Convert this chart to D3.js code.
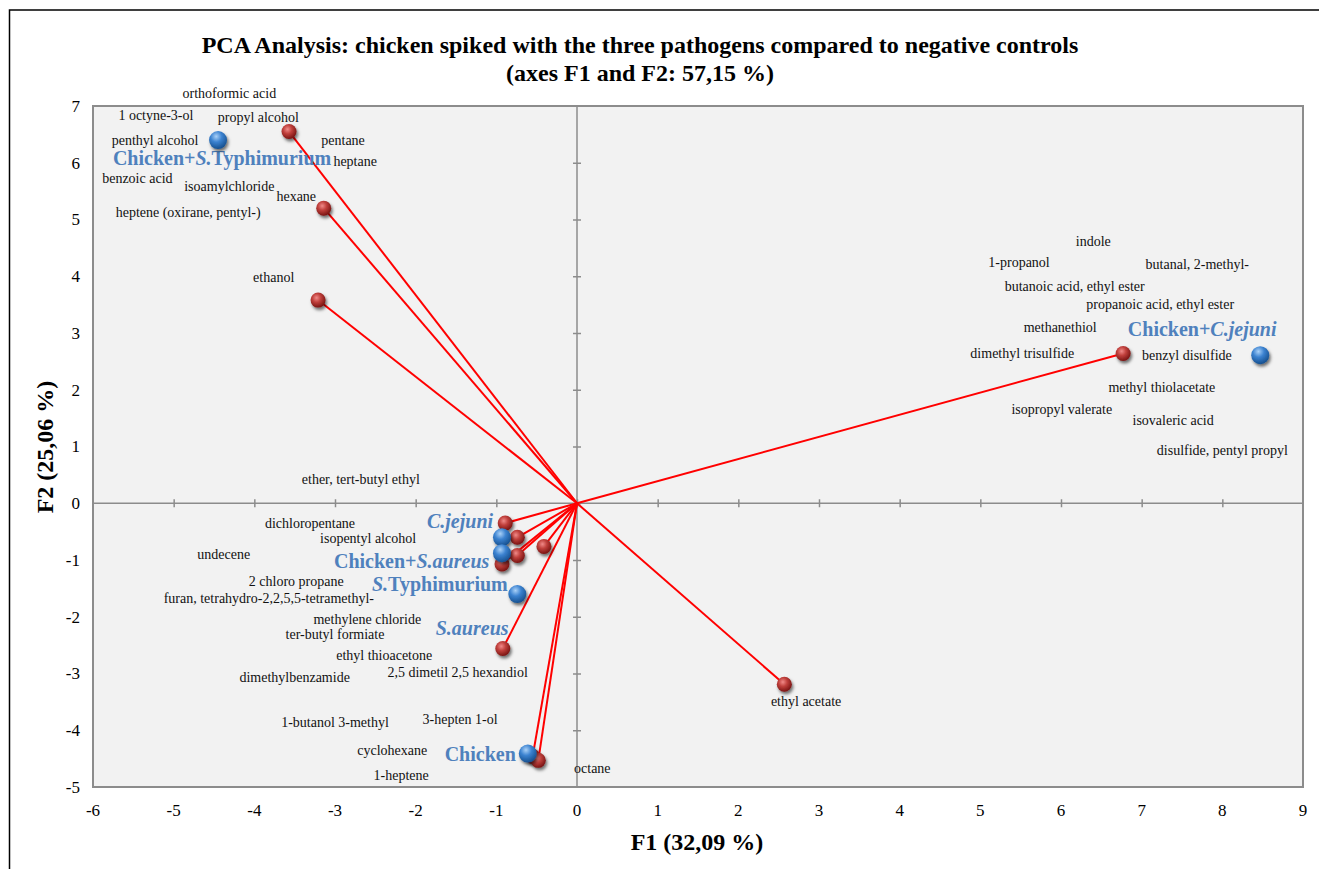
<!DOCTYPE html>
<html><head><meta charset="utf-8">
<script src="https://cdn.jsdelivr.net/npm/d3@7"></script>
<style>
html,body{margin:0;padding:0;background:#fff;}
svg{display:block;font-family:"Liberation Serif","Times New Roman",serif;}
</style></head>
<body>
<svg id="chart" width="1319" height="869"></svg>
<script>
// ---------- data ----------
const xTicks = [-6,-5,-4,-3,-2,-1,0,1,2,3,4,5,6,7,8,9];
const yTicks = [7,6,5,4,3,2,1,0,-1,-2,-3,-4,-5];

// variable loadings (red points, joined to origin)
const varX = [-3.57,-3.14,-3.21,6.77,2.57,-0.89,-0.74,-0.41,-0.74,-0.93,-0.92,-0.55,-0.48];
const varY = [6.55,5.20,3.58,2.64,-3.19,-0.35,-0.60,-0.76,-0.92,-1.07,-2.56,-4.46,-4.53];

// observations (blue points)
const obsX = [-4.45,8.47,-0.93,-0.93,-0.74,-0.61];
const obsY = [6.40,2.61,-0.60,-0.88,-1.60,-4.41];

// observation labels (*...* = italic)
const obsLabels = ["Chicken+*S.*Typhimurium","Chicken+*C.jejuni*","*C.jejuni*","Chicken+*S.aureus*","*S.*Typhimurium","*S.aureus*","Chicken"];
const obsLabelX = [-4.40,7.75,-1.45,-2.05,-1.70,-1.30,-1.20];
const obsLabelY = [6.08,3.07,-0.32,-1.02,-1.42,-2.19,-4.41];

// compound labels
const varLabels = ["orthoformic acid","1 octyne-3-ol","propyl alcohol","penthyl alcohol","pentane","heptane","benzoic acid","isoamylchloride","hexane","heptene (oxirane, pentyl-)","ethanol",
 "indole","1-propanol","butanal, 2-methyl-","butanoic acid, ethyl ester","propanoic acid, ethyl ester","methanethiol","dimethyl trisulfide","benzyl disulfide","methyl thiolacetate","isopropyl valerate","isovaleric acid","disulfide, pentyl propyl",
 "ether, tert-butyl ethyl","dichloropentane","isopentyl alcohol","undecene","2 chloro propane","furan, tetrahydro-2,2,5,5-tetramethyl-","methylene chloride","ter-butyl formiate","ethyl thioacetone","2,5 dimetil 2,5 hexandiol","dimethylbenzamide","1-butanol 3-methyl","3-hepten 1-ol","cyclohexane","1-heptene","octane","ethyl acetate"];
const varLabelX = [-4.31,-5.22,-3.95,-5.23,-2.90,-2.75,-5.45,-4.31,-3.48,-4.82,-3.76,
 6.40,5.48,7.69,6.17,7.23,5.99,5.52,7.56,7.25,6.01,7.39,8.00,
 -2.68,-3.31,-2.59,-4.38,-3.48,-3.82,-2.60,-3.00,-2.39,-1.48,-3.50,-3.00,-1.45,-2.29,-2.18,0.19,2.84];
const varLabelY = [7.22,6.84,6.80,6.40,6.40,6.03,5.73,5.59,5.41,5.13,3.98,
 4.62,4.25,4.21,3.82,3.51,3.10,2.64,2.61,2.04,1.66,1.46,0.93,
 0.42,-0.35,-0.62,-0.90,-1.37,-1.68,-2.04,-2.31,-2.68,-2.98,-3.07,-3.86,-3.81,-4.35,-4.79,-4.67,-3.49];

const titleLines = ["PCA Analysis: chicken spiked with the three pathogens compared to negative controls","(axes F1 and F2: 57,15 %)"];
const xTitle = "F1 (32,09 %)";
const yTitle = "F2 (25,06 %)";

// ---------- drawing ----------
const svg = d3.select("#chart");
const plot = {left:93, right:1303, top:106, bottom:787};
const x = d3.scaleLinear().domain([-6,9]).range([plot.left, plot.right]);
const y = d3.scaleLinear().domain([-5,7]).range([plot.bottom, plot.top]);

const defs = svg.append("defs");
const rg = defs.append("radialGradient").attr("id","gRed").attr("cx","40%").attr("cy","35%").attr("r","65%");
rg.append("stop").attr("offset","0%").attr("stop-color","#f08a88");
rg.append("stop").attr("offset","45%").attr("stop-color","#c0403c");
rg.append("stop").attr("offset","100%").attr("stop-color","#7a1513");
const bg = defs.append("radialGradient").attr("id","gBlue").attr("cx","40%").attr("cy","30%").attr("r","70%");
bg.append("stop").attr("offset","0%").attr("stop-color","#a9d0f7");
bg.append("stop").attr("offset","45%").attr("stop-color","#3b82d0");
bg.append("stop").attr("offset","100%").attr("stop-color","#17508f");
const sh = defs.append("filter").attr("id","shadow").attr("x","-50%").attr("y","-50%").attr("width","200%").attr("height","200%");
sh.append("feDropShadow").attr("dx",1.5).attr("dy",2.5).attr("stdDeviation",1.5).attr("flood-color","#000").attr("flood-opacity",0.55);

// outer frame
svg.append("path").attr("d","M1319,10 H9.5 V869").attr("fill","none").attr("stroke","#000").attr("stroke-width",1.5);

// plot background
svg.append("rect").attr("x",plot.left).attr("y",plot.top).attr("width",plot.right-plot.left).attr("height",plot.bottom-plot.top)
  .attr("fill","#f2f2f2").attr("stroke","#8c8c8c").attr("stroke-width",2);

// axes through origin
const axX = d3.axisBottom(x).tickValues(xTicks.filter(d=>d>-6&&d<9)).tickSize(8).tickFormat("");
const axY = d3.axisLeft(y).tickValues(yTicks.filter(d=>d>-5&&d<7)).tickSize(8).tickFormat("");
const gx = svg.append("g").attr("transform",`translate(0,${y(0)-4})`).call(axX);
gx.select(".domain").remove();
gx.selectAll("line").attr("stroke","#8c8c8c").attr("stroke-width",1.5);
svg.append("line").attr("x1",plot.left).attr("x2",plot.right).attr("y1",y(0)).attr("y2",y(0)).attr("stroke","#8c8c8c").attr("stroke-width",1.5);
const gy = svg.append("g").attr("transform",`translate(${x(0)+4},0)`).call(axY);
gy.select(".domain").remove();
gy.selectAll("line").attr("stroke","#8c8c8c").attr("stroke-width",1.5);
svg.append("line").attr("x1",x(0)).attr("x2",x(0)).attr("y1",plot.top).attr("y2",plot.bottom).attr("stroke","#8c8c8c").attr("stroke-width",1.5);

// tick labels
svg.append("g").selectAll("text").data(xTicks).join("text")
  .attr("x",d=>x(d)).attr("y",plot.bottom+29).attr("text-anchor","middle")
  .attr("font-size",17).attr("fill","#000").text(d=>d);
svg.append("g").selectAll("text").data(yTicks).join("text")
  .attr("x",plot.left-13).attr("y",d=>y(d)).attr("dy","0.35em").attr("text-anchor","end")
  .attr("font-size",17).attr("fill","#000").text(d=>d);

// titles
svg.append("g").selectAll("text").data(titleLines).join("text")
  .attr("x",640).attr("y",(d,i)=>53+i*28).attr("text-anchor","middle")
  .attr("font-size",24).attr("font-weight","bold").attr("fill","#000").text(d=>d);
svg.append("text").attr("x",697).attr("y",850).attr("text-anchor","middle")
  .attr("font-size",24).attr("font-weight","bold").text(xTitle);
svg.append("text").attr("transform","translate(53,447) rotate(-90)").attr("text-anchor","middle")
  .attr("font-size",24).attr("font-weight","bold").text(yTitle);

// compound labels
svg.append("g").selectAll("text").data(varLabels).join("text")
  .attr("x",(d,i)=>x(varLabelX[i])).attr("y",(d,i)=>y(varLabelY[i])).attr("dy","0.35em")
  .attr("text-anchor","middle").attr("font-size",14).attr("fill","#111").text(d=>d);

// loading lines
svg.append("g").selectAll("line").data(varX).join("line")
  .attr("x1",x(0)).attr("y1",y(0)).attr("x2",(d,i)=>x(varX[i])).attr("y2",(d,i)=>y(varY[i]))
  .attr("stroke","#ff0000").attr("stroke-width",2);

// observation labels
const ol = svg.append("g").selectAll("text").data(obsLabels).join("text")
  .attr("x",(d,i)=>x(obsLabelX[i])).attr("y",(d,i)=>y(obsLabelY[i])).attr("dy","0.35em")
  .attr("text-anchor","middle").attr("font-size",20).attr("font-weight","bold").attr("fill","#4f81bd");
ol.each(function(d){
  const parts = d.split("*");
  const t = d3.select(this);
  parts.forEach((p,k)=>{ if(p.length) t.append("tspan").attr("font-style",k%2?"italic":"normal").text(p); });
});

// red points
svg.append("g").selectAll("circle").data(varX).join("circle")
  .attr("cx",(d,i)=>x(varX[i])).attr("cy",(d,i)=>y(varY[i])).attr("r",7.5)
  .attr("fill","url(#gRed)").attr("filter","url(#shadow)");

// blue points
svg.append("g").selectAll("circle").data(obsX).join("circle")
  .attr("cx",(d,i)=>x(obsX[i])).attr("cy",(d,i)=>y(obsY[i])).attr("r",9)
  .attr("fill","url(#gBlue)").attr("filter","url(#shadow)");
</script>
</body></html>
